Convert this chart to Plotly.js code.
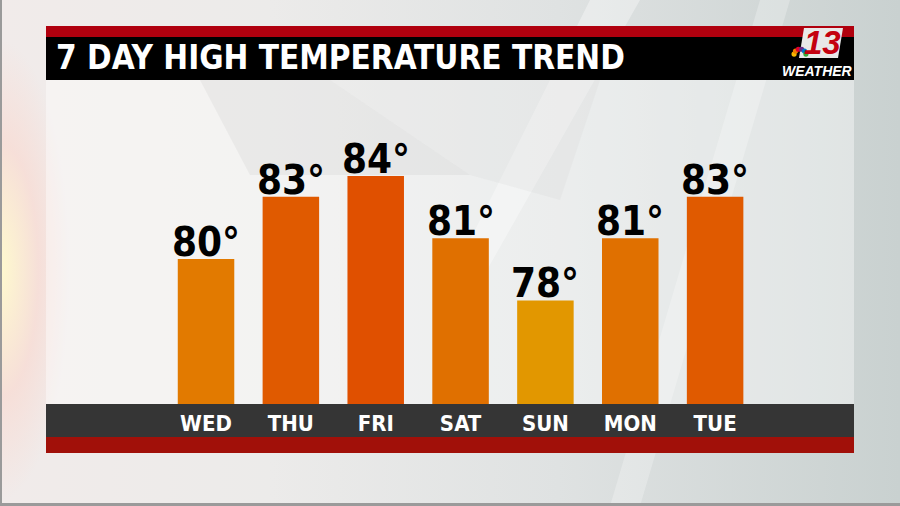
<!DOCTYPE html>
<html>
<head>
<meta charset="utf-8">
<script src="https://cdn.plot.ly/plotly-3.0.1.min.js"></script>
<style>
  html, body { margin: 0; padding: 0; }
  #chart {
    width: 900px; height: 506px;
    background:
      radial-gradient(ellipse 70px 230px at 0px 270px, rgba(255,250,205,0.95), rgba(250,215,205,0.6) 55%, rgba(250,215,205,0) 100%),
      linear-gradient(90deg, #f1ebea 0%, #ecebea 30%, #dfe2e2 62%, #c9d1d0 100%);
  }
</style>
</head>
<body>
<div id="chart"></div>
<script>
// 7 day high temperature trend
const DAYS = ['WED', 'THU', 'FRI', 'SAT', 'SUN', 'MON', 'TUE'];
const HIGHS = [80, 83, 84, 81, 78, 81, 83];
const TITLE = '7 DAY HIGH TEMPERATURE TREND';

const BAR_COLORS = ['#e27a00', '#e05a00', '#e05000', '#e07000', '#e29700', '#e07000', '#e05a00'];
const FONT = 'DejaVu Sans Condensed, Roboto, sans-serif';

// panel in pixels: x 46..854, plot area y 80..404
const PANEL = { l: 46, r: 854, t: 80, b: 404 };
const px = x => (x - PANEL.l) / (PANEL.r - PANEL.l);
const py = y => (PANEL.b - y) / (PANEL.b - PANEL.t);

function rect(x0, y0, x1, y1, color, layer) {
  return {
    type: 'rect', xref: 'paper', yref: 'paper', layer: layer || 'above',
    x0: px(x0), x1: px(x1), y0: py(y1), y1: py(y0),
    fillcolor: color, line: { width: 0 },
  };
}

function poly(points, color, layer) {
  const d = points.map((p, i) => (i ? 'L' : 'M') + px(p[0]) + ',' + py(p[1])).join(' ') + ' Z';
  return { type: 'path', xref: 'paper', yref: 'paper', layer: layer || 'below', path: d, fillcolor: color, line: { width: 0 } };
}

const trace = {
  type: 'bar',
  x: DAYS,
  y: HIGHS,
  marker: { color: BAR_COLORS, line: { width: 0 } },
  hoverinfo: 'skip',
};

const labels = DAYS.map((d, i) => ({
  x: d, y: HIGHS[i], xref: 'x', yref: 'y',
  text: HIGHS[i] + '°', showarrow: false,
  yanchor: 'bottom', yshift: -8,
  font: { family: FONT, size: 40, color: '#000000', weight: 700 },
}));

const shapes = [
  // background facets
  poly([[200, 80], [330, 80], [470, 175], [250, 175]], 'rgba(150,150,150,0.10)'),
  poly([[590, 0], [640, 0], [470, 300], [440, 300]], 'rgba(255,255,255,0.35)'),
  poly([[760, 0], [790, 0], [640, 506], [610, 506]], 'rgba(255,255,255,0.25)'),
  poly([[330, 80], [600, 80], [560, 200], [470, 175]], 'rgba(200,200,200,0.15)'),
  // header
  rect(46, 26, 854, 37, '#b0000e'),
  rect(46, 37, 854, 80, '#000000'),
  // footer
  rect(46, 404, 854, 437, '#353535', 'below'),
  rect(46, 437, 854, 453, '#a11009', 'below'),
  // logo plate
  poly([[804, 28], [843, 28], [838, 58], [799, 58]], '#e8e8e8', 'above'),
  // frame edges
  rect(0, 0, 2, 506, '#9a9a9a'),
  rect(0, 503, 900, 506, '#9a9a9a'),
];

const peacock = ['#f5b700', '#f07a00', '#e0002a', '#6a2b8a', '#0077c8', '#3aa83a'];
peacock.forEach((c, i) => {
  const a = Math.PI * (0.95 - i * 0.18);
  const cx = 800 + Math.cos(a) * 6, cy = 55 - Math.sin(a) * 6;
  shapes.push({
    type: 'circle', xref: 'paper', yref: 'paper', layer: 'above',
    x0: px(cx - 2.6), x1: px(cx + 2.6), y0: py(cy + 2.6), y1: py(cy - 2.6),
    fillcolor: c, line: { width: 0 },
  });
});

const annotations = [
  ...labels,
  {
    xref: 'paper', yref: 'paper', x: px(54), y: py(58), xanchor: 'left', yanchor: 'middle',
    text: TITLE, showarrow: false,
    font: { family: FONT, size: 33, color: '#ffffff', weight: 700 },
  },
  {
    xref: 'paper', yref: 'paper', x: px(822), y: py(43), xanchor: 'center', yanchor: 'middle',
    text: '<i>13</i>', showarrow: false,
    font: { family: 'Liberation Sans, Arial, sans-serif', size: 33, color: '#c4000f', weight: 700 },
  },
  {
    xref: 'paper', yref: 'paper', x: px(817), y: py(71), xanchor: 'center', yanchor: 'middle',
    text: '<i>WEATHER</i>', showarrow: false,
    font: { family: 'Liberation Sans, Arial, sans-serif', size: 14, color: '#ffffff', weight: 700 },
  },
];

const layout = {
  width: 900, height: 506,
  paper_bgcolor: 'rgba(0,0,0,0)',
  plot_bgcolor: 'rgba(255,255,255,0.4)',
  margin: { l: PANEL.l, r: 900 - PANEL.r, t: PANEL.t, b: 506 - PANEL.b, pad: 0 },
  bargap: 0.334,
  showlegend: false,
  xaxis: {
    type: 'category',
    range: [-1.886, 7.637],
    showgrid: false, zeroline: false, showline: false, ticks: '',
    tickfont: { family: FONT, size: 22, color: '#ffffff', weight: 700 },
    ticklabelstandoff: 4,
    fixedrange: true,
  },
  yaxis: {
    range: [73.01, 88.63],
    showgrid: false, zeroline: false, showline: false, showticklabels: false, ticks: '',
    fixedrange: true,
  },
  shapes: shapes,
  annotations: annotations,
};

Plotly.newPlot('chart', [trace], layout, { displayModeBar: false, staticPlot: true });
</script>
</body>
</html>
